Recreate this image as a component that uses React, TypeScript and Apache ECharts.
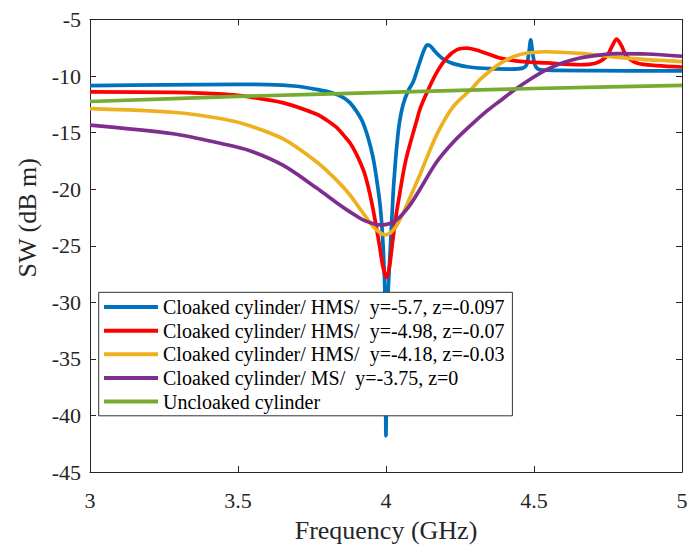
import React, { useEffect, useRef } from "react";
import * as echarts from "echarts";

const xMin = 3;
const xMax = 5;
const xStep = 0.5;
const yMin = -45;
const yMax = -5;
const yStep = 5;

const seriesNames = [
  "Cloaked cylinder/ HMS/  y=-5.7, z=-0.097",
  "Cloaked cylinder/ HMS/  y=-4.98, z=-0.07",
  "Cloaked cylinder/ HMS/  y=-4.18, z=-0.03",
  "Cloaked cylinder/ MS/  y=-3.75, z=0",
  "Uncloaked cylinder",
];
const seriesColors = ["#0072BD", "#FF0000", "#EDB120", "#7E2F8E", "#77AC30"];

const blueFreq = [3.0, 3.25, 3.5, 3.6, 3.7, 3.77, 3.82, 3.856, 3.878, 3.9, 3.92, 3.94, 3.957, 3.97, 3.98, 3.987, 3.992, 3.9965, 4.0, 4.003, 4.006, 4.011, 4.016, 4.02, 4.025, 4.03, 4.036, 4.045, 4.058, 4.075, 4.092, 4.105, 4.12, 4.132, 4.14, 4.15, 4.165, 4.182, 4.2, 4.227, 4.28, 4.35, 4.42, 4.462, 4.475, 4.483, 4.489, 4.495, 4.503, 4.515, 4.543, 4.7, 5.0];
const blueSW = [-10.85, -10.78, -10.74, -10.75, -10.9, -11.2, -11.5, -11.9, -12.35, -13.1, -14.0, -15.5, -17.3, -19.4, -21.4, -23.6, -26.0, -29.5, -41.8, -35.0, -30.0, -27.0, -24.5, -22.5, -20.0, -18.2, -16.3, -14.2, -12.5, -11.3, -10.5, -9.5, -8.3, -7.5, -7.25, -7.35, -7.8, -8.26, -8.6, -8.9, -9.2, -9.35, -9.38, -9.3, -9.0, -7.9, -6.8, -7.9, -9.0, -9.4, -9.48, -9.52, -9.55];

const redFreq = [3.0, 3.28, 3.45, 3.54, 3.65, 3.766, 3.8, 3.833, 3.856, 3.878, 3.9, 3.925, 3.94, 3.952, 3.965, 3.978, 3.99, 4.002, 4.012, 4.022, 4.036, 4.047, 4.058, 4.07, 4.092, 4.104, 4.115, 4.138, 4.171, 4.205, 4.24, 4.273, 4.318, 4.385, 4.453, 4.543, 4.655, 4.71, 4.745, 4.765, 4.779, 4.795, 4.813, 4.847, 4.915, 5.0];
const redSW = [-11.4, -11.45, -11.6, -11.85, -12.35, -13.37, -13.9, -14.54, -15.2, -15.9, -16.9, -18.4, -19.8, -21.2, -23.0, -25.0, -26.9, -27.8, -26.8, -24.7, -22.0, -20.3, -18.6, -17.1, -15.0, -13.9, -12.9, -11.47, -9.7, -8.4, -7.67, -7.53, -7.8, -8.4, -8.7, -8.84, -9.0, -8.84, -8.26, -7.3, -6.74, -7.3, -8.26, -8.84, -9.08, -9.2];

const yellowFreq = [3.0, 3.28, 3.45, 3.54, 3.653, 3.766, 3.833, 3.878, 3.925, 3.96, 3.98, 3.997, 4.015, 4.036, 4.058, 4.08, 4.115, 4.171, 4.227, 4.29, 4.318, 4.385, 4.453, 4.543, 4.655, 4.768, 4.88, 5.0];
const yellowSW = [-12.87, -13.2, -13.8, -14.4, -15.56, -17.6, -19.2, -20.5, -22.2, -23.4, -23.85, -24.03, -23.85, -23.2, -22.1, -20.8, -18.7, -15.2, -12.7, -11.1, -10.3, -8.9, -8.1, -7.85, -8.0, -8.3, -8.55, -8.72];

const purpleFreq = [3.0, 3.28, 3.45, 3.54, 3.653, 3.766, 3.833, 3.878, 3.93, 3.985, 4.036, 4.081, 4.115, 4.171, 4.227, 4.284, 4.34, 4.385, 4.43, 4.486, 4.543, 4.6, 4.655, 4.72, 4.78, 4.88, 5.0];
const purpleSW = [-14.33, -15.1, -16.0, -16.6, -17.9, -19.9, -21.2, -22.0, -22.8, -23.16, -22.7, -21.4, -20.0, -17.6, -15.85, -14.4, -13.1, -12.2, -11.3, -10.3, -9.43, -8.8, -8.4, -8.15, -8.02, -8.05, -8.25];

const greenFreq = [3.0, 3.5, 4.0, 4.5, 5.0];
const greenSW = [-12.25, -11.8, -11.45, -11.1, -10.83];

const freqSets = [blueFreq, redFreq, yellowFreq, purpleFreq, greenFreq];
const valueSets = [blueSW, redSW, yellowSW, purpleSW, greenSW];

const FONT = "Liberation Serif, serif";
const AXIS_COLOR = "#262626";

export default function App() {
  const ref = useRef<HTMLDivElement>(null);

  useEffect(() => {
    if (!ref.current) return;
    const chart = echarts.init(ref.current, undefined, { renderer: "svg" });

    const series = seriesNames.map((name, i) => ({
      name,
      type: "line",
      xAxisIndex: 0,
      yAxisIndex: 0,
      data: freqSets[i].map((f, j) => [f, valueSets[i][j]]),
      showSymbol: false,
      smooth: 0.3,
      lineStyle: { color: seriesColors[i], width: 3.7 },
      itemStyle: { color: seriesColors[i] },
      emphasis: { disabled: true },
    }));

    const commonX = {
      type: "value",
      min: xMin,
      max: xMax,
      interval: xStep,
      axisLine: { show: true, lineStyle: { color: AXIS_COLOR, width: 1 } },
      axisTick: { show: true, inside: true, length: 6, lineStyle: { color: AXIS_COLOR, width: 1 } },
      splitLine: { show: false },
    };
    const commonY = {
      type: "value",
      min: yMin,
      max: yMax,
      interval: yStep,
      axisLine: { show: true, lineStyle: { color: AXIS_COLOR, width: 1 } },
      axisTick: { show: true, inside: true, length: 6, lineStyle: { color: AXIS_COLOR, width: 1 } },
      splitLine: { show: false },
    };

    chart.setOption({
      animation: false,
      backgroundColor: "#ffffff",
      textStyle: { fontFamily: FONT },
      grid: { left: 90, top: 19.5, right: 18, bottom: 72, containLabel: false },
      xAxis: [
        {
          ...commonX,
          position: "bottom",
          axisLabel: { fontFamily: FONT, fontSize: 22, color: AXIS_COLOR, margin: 17 },
          name: "Frequency (GHz)",
          nameLocation: "middle",
          nameGap: 45,
          nameTextStyle: { fontFamily: FONT, fontSize: 26, color: AXIS_COLOR },
        },
        { ...commonX, position: "top", axisLabel: { show: false } },
      ],
      yAxis: [
        {
          ...commonY,
          position: "left",
          axisLabel: { fontFamily: FONT, fontSize: 22, color: AXIS_COLOR, margin: 9 },
          name: "SW (dB m)",
          nameLocation: "middle",
          nameGap: 50,
          nameTextStyle: { fontFamily: FONT, fontSize: 26, color: AXIS_COLOR, padding: [0, 0, 0, 56] },
        },
        { ...commonY, position: "right", axisLabel: { show: false } },
      ],
      legend: {
        show: true,
        orient: "vertical",
        left: 98.7,
        top: 292.3,
        data: seriesNames,
        icon: "rect",
        itemWidth: 54,
        itemHeight: 4,
        itemGap: 0,
        padding: [3, 8, 2.5, 5.3],
        backgroundColor: "#ffffff",
        borderColor: "#333333",
        borderWidth: 1,
        borderRadius: 0,
        selectedMode: false,
        textStyle: { fontFamily: FONT, fontSize: 20, color: "#000000", lineHeight: 23.6 },
      },
      series,
    });

    return () => chart.dispose();
  }, []);

  return (
    <div
      ref={ref}
      style={{ position: "fixed", left: 0, top: 0, width: 700, height: 548, background: "#fff" }}
    />
  );
}
